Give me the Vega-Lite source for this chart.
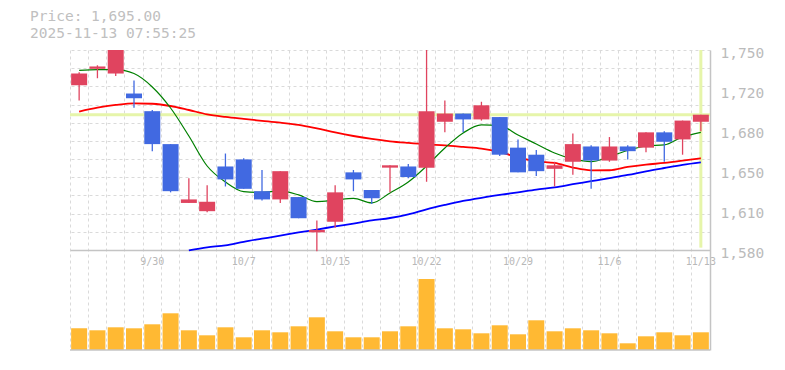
{
  "$schema": "https://vega.github.io/schema/vega-lite/v6.json",
  "width": 640,
  "height": 300,
  "autosize": {"type": "none"},
  "padding": {"left": 70, "top": 50, "right": 75, "bottom": 20},
  "background": "white",
  "config": {"view": {"stroke": null}, "font": "DejaVu Sans Mono"},
  "title": {
    "text": "Price: 1,695.00",
    "subtitle": "2025-11-13 07:55:25",
    "anchor": "start",
    "frame": "group",
    "dx": -40,
    "offset": 4,
    "font": "DejaVu Sans Mono",
    "fontSize": 14.5,
    "fontWeight": "normal",
    "color": "#c0c0c0",
    "subtitleFont": "DejaVu Sans Mono",
    "subtitleFontSize": 14.5,
    "subtitleColor": "#c0c0c0",
    "subtitlePadding": 2
  },
  "data": {"values": [
    {"d": "9/24", "o": 1720, "h": 1731, "l": 1707, "c": 1730, "v": 108500, "m5": 1732.7, "m25": 1697.7, "m75": null},
    {"d": "9/25", "o": 1734, "h": 1737, "l": 1726, "c": 1736, "v": 98500, "m5": 1733.3, "m25": 1701.0, "m75": null},
    {"d": "9/26", "o": 1730, "h": 1750, "l": 1728, "c": 1750, "v": 113500, "m5": 1733.4, "m25": 1703.3, "m75": null},
    {"d": "9/29", "o": 1713, "h": 1724, "l": 1701, "c": 1709, "v": 108500, "m5": 1730.0, "m25": 1704.7, "m75": null},
    {"d": "9/30", "o": 1698, "h": 1699, "l": 1664, "c": 1670, "v": 128500, "m5": 1718.6, "m25": 1704.3, "m75": null},
    {"d": "10/1", "o": 1670, "h": 1670, "l": 1629, "c": 1630, "v": 183500, "m5": 1700.7, "m25": 1702.4, "m75": null},
    {"d": "10/2", "o": 1620, "h": 1641, "l": 1620, "c": 1623, "v": 98500, "m5": 1676.9, "m25": 1699.0, "m75": 1579.7},
    {"d": "10/3", "o": 1613, "h": 1635, "l": 1612, "c": 1621, "v": 73500, "m5": 1651.4, "m25": 1695.3, "m75": 1582.2},
    {"d": "10/6", "o": 1651, "h": 1662, "l": 1634, "c": 1640, "v": 113500, "m5": 1637.8, "m25": 1693.1, "m75": 1584.0},
    {"d": "10/7", "o": 1657, "h": 1658, "l": 1632, "c": 1632, "v": 63500, "m5": 1629.6, "m25": 1691.4, "m75": 1587.0},
    {"d": "10/8", "o": 1630, "h": 1648, "l": 1622, "c": 1623, "v": 98500, "m5": 1628.9, "m25": 1689.8, "m75": 1589.6},
    {"d": "10/9", "o": 1623, "h": 1647, "l": 1620, "c": 1647, "v": 88500, "m5": 1630.2, "m25": 1688.2, "m75": 1592.2},
    {"d": "10/10", "o": 1625, "h": 1625, "l": 1607, "c": 1607, "v": 118500, "m5": 1626.8, "m25": 1686.3, "m75": 1594.9},
    {"d": "10/14", "o": 1595, "h": 1605, "l": 1579, "c": 1597, "v": 163500, "m5": 1621.2, "m25": 1683.3, "m75": 1597.4},
    {"d": "10/15", "o": 1604, "h": 1635, "l": 1599, "c": 1629, "v": 93500, "m5": 1622.5, "m25": 1679.9, "m75": 1600.0},
    {"d": "10/16", "o": 1646, "h": 1648, "l": 1630, "c": 1640, "v": 63500, "m5": 1623.9, "m25": 1676.9, "m75": 1602.5},
    {"d": "10/17", "o": 1631, "h": 1631, "l": 1619, "c": 1624, "v": 63500, "m5": 1620.0, "m25": 1674.4, "m75": 1605.1},
    {"d": "10/20", "o": 1650, "h": 1652, "l": 1629, "c": 1652, "v": 93500, "m5": 1628.5, "m25": 1672.4, "m75": 1607.2},
    {"d": "10/21", "o": 1651, "h": 1653, "l": 1641, "c": 1642, "v": 118500, "m5": 1637.8, "m25": 1671.0, "m75": 1610.3},
    {"d": "10/22", "o": 1650, "h": 1750, "l": 1638, "c": 1698, "v": 355000, "m5": 1651.4, "m25": 1669.8, "m75": 1614.6},
    {"d": "10/23", "o": 1689, "h": 1707, "l": 1680, "c": 1696, "v": 108500, "m5": 1666.7, "m25": 1668.9, "m75": 1618.3},
    {"d": "10/24", "o": 1696, "h": 1696, "l": 1680, "c": 1691, "v": 103500, "m5": 1679.5, "m25": 1667.6, "m75": 1621.7},
    {"d": "10/27", "o": 1691, "h": 1706, "l": 1690, "c": 1703, "v": 83500, "m5": 1686.3, "m25": 1666.2, "m75": 1624.4},
    {"d": "10/28", "o": 1693, "h": 1693, "l": 1660, "c": 1661, "v": 123500, "m5": 1685.8, "m25": 1663.3, "m75": 1626.8},
    {"d": "10/29", "o": 1667, "h": 1674, "l": 1646, "c": 1646, "v": 78500, "m5": 1677.8, "m25": 1658.8, "m75": 1629.0},
    {"d": "10/30", "o": 1661, "h": 1665, "l": 1643, "c": 1647, "v": 148500, "m5": 1670.1, "m25": 1655.4, "m75": 1631.3},
    {"d": "10/31", "o": 1649, "h": 1655, "l": 1634, "c": 1652, "v": 93500, "m5": 1662.5, "m25": 1654.0, "m75": 1633.3},
    {"d": "11/4", "o": 1655, "h": 1679, "l": 1644, "c": 1670, "v": 108500, "m5": 1657.4, "m25": 1650.1, "m75": 1635.9},
    {"d": "11/5", "o": 1668, "h": 1669, "l": 1632, "c": 1656, "v": 98500, "m5": 1655.1, "m25": 1647.7, "m75": 1638.5},
    {"d": "11/6", "o": 1656, "h": 1676, "l": 1655, "c": 1668, "v": 83500, "m5": 1659.5, "m25": 1647.8, "m75": 1641.1},
    {"d": "11/7", "o": 1668, "h": 1669, "l": 1657, "c": 1664, "v": 33500, "m5": 1664.6, "m25": 1650.6, "m75": 1643.8},
    {"d": "11/10", "o": 1667, "h": 1680, "l": 1663, "c": 1680, "v": 68500, "m5": 1668.4, "m25": 1652.6, "m75": 1646.9},
    {"d": "11/11", "o": 1680, "h": 1681, "l": 1655, "c": 1672, "v": 88500, "m5": 1669.3, "m25": 1654.0, "m75": 1649.7},
    {"d": "11/12", "o": 1674, "h": 1690, "l": 1661, "c": 1690, "v": 73500, "m5": 1676.1, "m25": 1655.9, "m75": 1652.4},
    {"d": "11/13", "o": 1689, "h": 1695, "l": 1681, "c": 1695, "v": 88500, "m5": 1680.0, "m25": 1658.0, "m75": 1654.5}
  ]},
  "layer": [
    {
      "layer": [
        {
          "transform": [{"filter": "datum.d === '11/13'"}],
          "mark": {"type": "rule", "color": "#e6f5aa", "strokeWidth": 3},
          "encoding": {
            "y": {"field": "c", "type": "quantitative", "scale": {"domain": [1495, 1750], "nice": false, "zero": false},
              "axis": {"orient": "right", "values": [1750, 1734.545, 1719.091, 1703.636, 1688.182, 1672.727, 1657.273, 1641.818, 1626.364, 1610.909, 1595.455, 1580],
                "grid": true, "gridColor": "#dadada", "gridDash": [3, 3], "gridWidth": 1, "labels": false, "ticks": false, "domain": false, "title": null}}
          }
        },
        {
          "transform": [{"filter": "datum.d === '11/13'"}],
          "mark": {"type": "rule", "color": "#e6f5aa", "strokeWidth": 3},
          "encoding": {
            "x": {"field": "d", "type": "ordinal", "sort": null,
              "scale": {"paddingInner": 0, "paddingOuter": 0, "domain": ["9/24","9/25","9/26","9/29","9/30","10/1","10/2","10/3","10/6","10/7","10/8","10/9","10/10","10/14","10/15","10/16","10/17","10/20","10/21","10/22","10/23","10/24","10/27","10/28","10/29","10/30","10/31","11/4","11/5","11/6","11/7","11/10","11/11","11/12","11/13"]},
              "axis": {"orient": "bottom", "offset": -100, "grid": true, "gridColor": "#dadada", "gridDash": [3, 3], "gridWidth": 1,
                "bandPosition": 0, "ticks": false, "domain": true, "domainColor": "#c4c4c4", "domainWidth": 1.5,
                "labelOffset": 0, "labelAngle": 0, "labelPadding": 6, "labelFont": "DejaVu Sans Mono", "labelFontSize": 10, "labelColor": "#b8b8b8",
                "labelOverlap": false, "labelBound": false, "labelFlush": false, "title": null,
                "labelExpr": "indexof('|9/30|10/7|10/15|10/22|10/29|11/6|11/13|', '|' + datum.value + '|') >= 0 ? datum.value : ''"}},
            "y": {"datum": 1750, "type": "quantitative", "scale": {"domain": [1495, 1750], "nice": false, "zero": false}, "axis": null},
            "y2": {"datum": 1582}
          }
        },
        {
          "mark": {"type": "line", "color": "#0000ff", "strokeWidth": 1.8, "interpolate": "monotone"},
          "encoding": {
            "x": {"field": "d", "type": "ordinal", "sort": null},
            "y": {"field": "m75", "type": "quantitative", "scale": {"domain": [1495, 1750], "nice": false, "zero": false}, "axis": null}
          }
        },
        {
          "mark": {"type": "line", "color": "#ff0000", "strokeWidth": 1.8, "interpolate": "monotone"},
          "encoding": {
            "x": {"field": "d", "type": "ordinal", "sort": null},
            "y": {"field": "m25", "type": "quantitative", "scale": {"domain": [1495, 1750], "nice": false, "zero": false}, "axis": null}
          }
        },
        {
          "mark": {"type": "line", "color": "#008000", "strokeWidth": 1.2, "interpolate": "monotone"},
          "encoding": {
            "x": {"field": "d", "type": "ordinal", "sort": null},
            "y": {"field": "m5", "type": "quantitative", "scale": {"domain": [1495, 1750], "nice": false, "zero": false}, "axis": null}
          }
        },
        {
          "mark": {"type": "rule", "strokeWidth": 1.3},
          "encoding": {
            "x": {"field": "d", "type": "ordinal", "sort": null},
            "y": {"field": "l", "type": "quantitative", "scale": {"domain": [1495, 1750], "nice": false, "zero": false},
              "axis": {"orient": "right", "values": [1750, 1716, 1682, 1648, 1614, 1580], "labelExpr": "format(round(datum.value / 10) * 10, ',')",
                "grid": false, "ticks": false, "domain": true, "domainColor": "#c4c4c4", "domainWidth": 1.5, "labelPadding": 10,
                "labelFont": "DejaVu Sans Mono", "labelFontSize": 14.5, "labelColor": "#bbbbbb", "labelOffset": 3,
                "labelOverlap": false, "labelBound": false, "labelFlush": false, "title": null}},
            "y2": {"field": "h"},
            "color": {"condition": {"test": "datum.c >= datum.o", "value": "#e0445f"}, "value": "#4169e1"}
          }
        },
        {
          "mark": {"type": "bar", "width": {"band": 0.875}},
          "encoding": {
            "x": {"field": "d", "type": "ordinal", "sort": null},
            "y": {"field": "o", "type": "quantitative", "scale": {"domain": [1495, 1750], "nice": false, "zero": false}, "axis": null},
            "y2": {"field": "c"},
            "color": {"condition": {"test": "datum.c >= datum.o", "value": "#e0445f"}, "value": "#4169e1"}
          }
        }
      ],
      "resolve": {"axis": {"y": "independent"}}
    },
    {
      "layer": [
        {
          "mark": {"type": "bar", "width": {"band": 0.875}, "color": "#ffb933"},
          "encoding": {
            "x": {"field": "d", "type": "ordinal", "sort": null},
            "y": {"field": "v", "type": "quantitative", "scale": {"domain": [0, 1500000], "nice": false}, "axis": null}
          }
        },
        {
          "transform": [{"filter": "datum.d === '11/13'"}],
          "mark": {"type": "rule", "color": "#c4c4c4", "strokeWidth": 1.5},
          "encoding": {
            "y": {"datum": 0, "type": "quantitative", "scale": {"domain": [0, 1500000], "nice": false}, "axis": null}
          }
        }
      ]
    }
  ],
  "resolve": {"scale": {"y": "independent"}}
}
